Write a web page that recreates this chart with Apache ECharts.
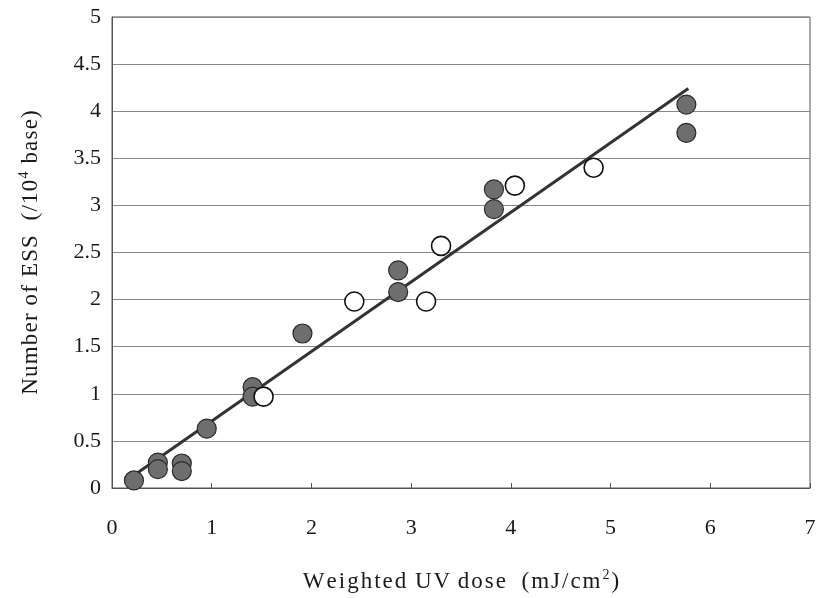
<!DOCTYPE html>
<html>
<head>
<meta charset="utf-8">
<script src="https://cdn.jsdelivr.net/npm/echarts@6/dist/echarts.min.js"></script>
<style>
  html, body { margin: 0; padding: 0; background: #fff; }
  #chart { width: 822px; height: 598px; }
</style>
</head>
<body>
<div id="chart"></div>
<script>
// Filled circles
var filledX = [0.22, 0.46, 0.46, 0.70, 0.70, 0.95, 1.41, 1.41, 1.91, 2.87, 2.87, 3.83, 3.83, 5.76, 5.76];
var filledY = [0.08, 0.27, 0.20, 0.26, 0.18, 0.63, 1.07, 0.97, 1.64, 2.31, 2.08, 3.17, 2.96, 4.07, 3.77];
// Open circles
var openX = [1.52, 2.43, 3.15, 3.30, 4.04, 4.83];
var openY = [0.97, 1.98, 1.98, 2.57, 3.21, 3.40];
// Regression line end points
var fitX = [0.20, 5.78];
var fitY = [0.12, 4.24];

function pairs(xs, ys) { return xs.map(function (x, i) { return [x, ys[i]]; }); }

// Rich-text string with every character in its own fragment, so that
// the padding of the style spreads the letters a little apart.
function spaced(text, style) {
  return Array.from(text).map(function (ch) {
    return ch === ' ' ? '{gap| }' : '{' + style + '|' + ch + '}';
  }).join('');
}

var serif = '"Liberation Serif", "DejaVu Serif", serif';
function titleRich(pad) {
  return {
    t: { fontFamily: serif, fontSize: 23, color: '#1a1a1a', padding: [0, pad, 0, pad] },
    gap: { fontFamily: serif, fontSize: 23, color: '#1a1a1a', padding: [0, 0.5, 0, 0.5] },
    s: { fontFamily: serif, fontSize: 14, color: '#1a1a1a', verticalAlign: 'top', padding: [0, pad, 13, pad] }
  };
}

var chart = echarts.init(document.getElementById('chart'));
chart.setOption({
  animation: false,
  backgroundColor: '#fff',
  grid: { left: 112, right: 12, top: 17, bottom: 109, show: true, borderColor: '#555', borderWidth: 1 },
  xAxis: {
    type: 'value', min: 0, max: 7, interval: 1,
    name: spaced('Weighted UV', 't') + '{gap|\u2009}' + spaced('dose  (mJ/cm', 't') + '{s|2}' + spaced(')', 't'),
    nameLocation: 'middle', nameGap: 80,
    nameTextStyle: { rich: titleRich(1) },
    axisLine: { lineStyle: { color: '#555', width: 1 } },
    axisTick: { show: true, inside: true, length: 5, lineStyle: { color: '#555' } },
    axisLabel: { fontFamily: serif, fontSize: 22, color: '#1a1a1a', margin: 29 },
    splitLine: { show: false }
  },
  yAxis: {
    type: 'value', min: 0, max: 5, interval: 0.5,
    name: spaced('Number of ESS  (/10', 't') + '{s|4}' + spaced(' base)', 't'),
    nameLocation: 'middle', nameGap: 68,
    nameTextStyle: { rich: titleRich(0.6) },
    axisLine: { show: true, lineStyle: { color: '#555', width: 1 } },
    axisTick: { show: false },
    axisLabel: { fontFamily: serif, fontSize: 22, color: '#1a1a1a', margin: 11 },
    splitLine: { show: true, lineStyle: { color: '#888', width: 1 } }
  },
  series: [
    {
      type: 'line', data: pairs(fitX, fitY), symbol: 'none',
      lineStyle: { color: '#333', width: 3 }, z: 3
    },
    {
      type: 'scatter', data: pairs(filledX, filledY), symbol: 'circle', symbolSize: 19,
      itemStyle: { color: '#6e6e6e', borderColor: '#2a2a2a', borderWidth: 1.2, opacity: 1 }, z: 4
    },
    {
      type: 'scatter', data: pairs(openX, openY), symbol: 'circle', symbolSize: 19,
      itemStyle: { color: '#fff', borderColor: '#111', borderWidth: 1.6, opacity: 1 }, z: 4
    }
  ]
});
</script>
</body>
</html>
